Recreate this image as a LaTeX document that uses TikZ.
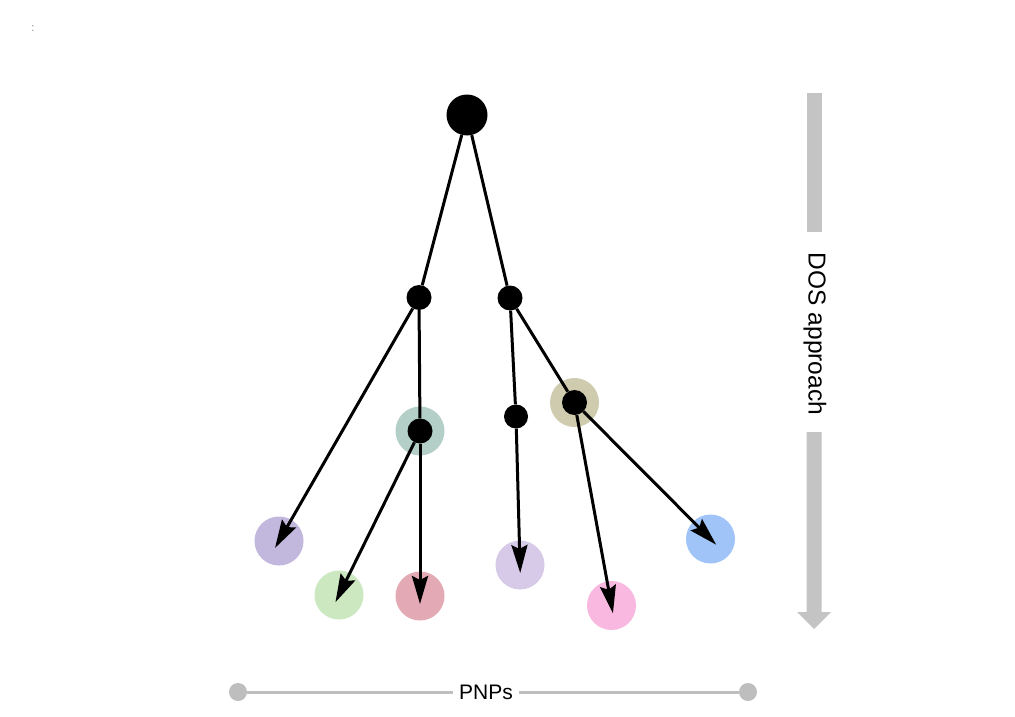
\documentclass[tikz,border=0pt]{standalone}
\usepackage{fontspec}
\setmainfont{Liberation Sans}
\usetikzlibrary{arrows.meta}
\definecolor{cteal}{HTML}{B4CFC8}
\definecolor{colive}{HTML}{CFCBAF}
\definecolor{cpurple}{HTML}{C2B7DC}
\definecolor{cgreen}{HTML}{CCE8C1}
\definecolor{cred}{HTML}{E3AAB5}
\definecolor{clav}{HTML}{D6CAE8}
\definecolor{cpink}{HTML}{F8B8E0}
\definecolor{cblue}{HTML}{A0C4F7}
\definecolor{cgray}{HTML}{C4C4C4}
\definecolor{cline}{HTML}{BEBEBE}
\begin{document}
\begin{tikzpicture}[x=1pt,y=-1pt,
  dot/.style={circle,fill=black,inner sep=0pt,minimum size=#1},
  halo/.style={circle,fill=#1,inner sep=0pt,minimum size=49pt},
  edge/.style={line width=3pt,black},
  arr/.style={edge,-{Stealth[length=28pt,width=16pt,inset=4pt]},shorten >=-8pt},
  gdot/.style={circle,fill=cline,inner sep=0pt,minimum size=18pt},
  lbl/.style={inner sep=0pt,text=black}
]
\useasboundingbox (0,0) rectangle (1015,717);
\fill[white] (0,0) rectangle (1015,717);
\node[lbl,text=gray,font=\fontsize{11}{12}\selectfont] (mark) at (33,29) {:};
% halos and leaves
\node[halo=cteal] (tealh) at (420,431) {};
\node[halo=colive] (oliveh) at (574.5,402.5) {};
\node[halo=cpurple] (purple) at (279,541) {};
\node[halo=cgreen] (green) at (339,595) {};
\node[halo=cred] (red) at (420,596) {};
\node[halo=clav] (lav) at (520,565) {};
\node[halo=cpink] (pink) at (611.5,605.5) {};
\node[halo=cblue] (blue) at (710.5,539) {};
% black dots
\node[dot=41pt] (root) at (467,115) {};
\node[dot=25pt] (l1l) at (419,297.5) {};
\node[dot=25pt] (l1r) at (510,298) {};
\node[dot=25pt] (teal) at (420,431) {};
\node[dot=24pt] (mid) at (516,416.5) {};
\node[dot=25pt] (olive) at (574.5,402.5) {};
% edges
\draw[edge] (root) -- (l1l);
\draw[edge] (root) -- (l1r);
\draw[edge] (l1l) -- (teal);
\draw[edge] (l1r) -- (mid);
\draw[edge] (l1r) -- (olive);
\draw[arr] (l1l) -- (purple.center);
\draw[arr] (teal) -- (green.center);
\draw[arr] (teal) -- (red.center);
\draw[arr] (mid) -- (lav.center);
\draw[arr] (olive) -- (pink.center);
\draw[arr] (olive) -- (blue.center);
% DOS approach arrow
\fill[cgray] (806.5,93) rectangle (821.5,232);
\fill[cgray] (806.5,432) -- (806.5,612) -- (797,612) -- (814,629) -- (831,612) -- (821.5,612) -- (821.5,432) -- cycle;
\node[lbl,rotate=-90,font=\fontsize{24.5}{28}\selectfont] (dos) at (815,334) {DOS approach};
% PNPs axis
\node[gdot] (pl) at (238,692) {};
\node[gdot] (pr) at (748,692) {};
\node[lbl,font=\fontsize{21}{24}\selectfont,inner xsep=6pt] (pnps) at (486,692) {PNPs};
\draw[cline,line width=3pt] (pl) -- (pnps.west);
\draw[cline,line width=3pt] (pnps.east) -- (pr);
\end{tikzpicture}
\end{document}
